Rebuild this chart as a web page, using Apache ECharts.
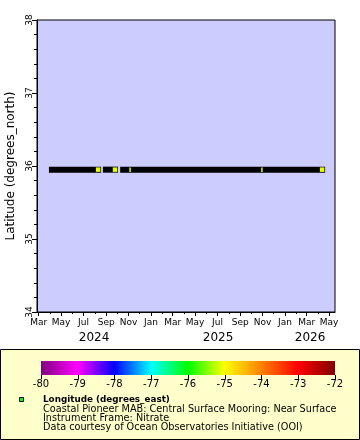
<!DOCTYPE html>
<html><head><meta charset="utf-8">
<script src="https://cdn.jsdelivr.net/npm/echarts@6/dist/echarts.min.js"></script>
<style>html,body{margin:0;padding:0;background:#fff}#c{width:360px;height:440px}</style>
</head><body><div id="c"></div>
<script>
// ---- data ----
const timeRange = ['2024-02-25T12:00', '2026-05-17T00:00'];
const latRange = [34, 38];
// continuous runs of (overlapping) observations
const segStart = ['2024-03-29', '2024-08-23', '2024-10-09'];
const segEnd   = ['2024-08-18', '2024-10-03', '2026-04-20'];
const segLat   = [35.95, 35.95, 35.95];
// observations whose fill colour is visible
const openDates = ['2024-08-10', '2024-09-25', '2026-04-12'];
const openLat   = [35.95, 35.95, 35.95];
const openLon   = [-75.1, -75.1, -75.1];
// observations mostly hidden by neighbours
const slivDates = ['2024-11-05', '2025-10-30'];
const slivLat   = [35.95, 35.95];
const slivLon   = [-75.1, -75.1];
// axis ticks
const monthTicks = ['2024-03','2024-04','2024-05','2024-06','2024-07','2024-08','2024-09','2024-10','2024-11','2024-12',
  '2025-01','2025-02','2025-03','2025-04','2025-05','2025-06','2025-07','2025-08','2025-09','2025-10','2025-11','2025-12',
  '2026-01','2026-02','2026-03','2026-04','2026-05'];
const labelMonths = ['2024-03','2024-05','2024-07','2024-09','2024-11','2025-01','2025-03','2025-05','2025-07','2025-09','2025-11','2026-01','2026-03','2026-05'];
const monthNames = ['Jan','Feb','Mar','Apr','May','Jun','Jul','Aug','Sep','Oct','Nov','Dec'];
const yearLabels = ['2024', '2025', '2026'];
const cbTicks = [-80, -79, -78, -77, -76, -75, -74, -73, -72];
const cbColors = ['#800080','#ff00ff','#0000ff','#00ffff','#00ff00','#ffff00','#ff8000','#ff0000','#800000'];
const legendTitle = 'Longitude (degrees_east)';
const legendLines = ['Coastal Pioneer MAB: Central Surface Mooring: Near Surface',
  'Instrument Frame: Nitrate',
  'Data courtesy of Ocean Observatories Initiative (OOI)'];
const yTitle = 'Latitude (degrees_north)';

// ---- helpers ----
function t(s) {
  const m = s.match(/(\d+)-(\d+)(?:-(\d+))?(?:T(\d+):(\d+))?/);
  return Date.UTC(+m[1], +m[2] - 1, m[3] ? +m[3] : 1, m[4] ? +m[4] : 0, m[5] ? +m[5] : 0);
}
const xMin = t(timeRange[0]), xMax = t(timeRange[1]);
const yearCenters = yearLabels.map(y => {
  const a = Math.max(xMin, Date.UTC(+y, 0, 1)), b = Math.min(xMax, Date.UTC(+y + 1, 0, 1));
  return (a + b) / 2;
});
const FONT = 'DejaVu Sans';

const chart = echarts.init(document.getElementById('c'), null, {renderer: 'canvas'});
const baseX = {type: 'value', gridIndex: 0, min: xMin, max: xMax, position: 'bottom', offset: 0, splitLine: {show: false}};
chart.setOption({
  animation: false,
  backgroundColor: '#fff',
  textStyle: {fontFamily: FONT},
  grid: [
    {left: 37, top: 20, width: 298, height: 292, show: true, backgroundColor: '#ccccff', borderColor: '#000', borderWidth: 1,
     containLabel: false, outerBoundsMode: 'none'},
    {left: 41, top: 361, width: 294, height: 14, show: true, borderWidth: 0, containLabel: false, outerBoundsMode: 'none',
     backgroundColor: new echarts.graphic.LinearGradient(0, 0, 1, 0, cbColors.map((c, i) => ({offset: i / (cbColors.length - 1), color: c})))}
  ],
  xAxis: [
    Object.assign({}, baseX, {
      axisLine: {show: true, lineStyle: {color: '#000', width: 1}},
      axisTick: {show: true, length: 4, lineStyle: {color: '#000'}, customValues: labelMonths.map(t)},
      axisLabel: {show: true, customValues: labelMonths.map(t), fontSize: 9, color: '#000', margin: 6, fontFamily: FONT,
        formatter: v => monthNames[new Date(v).getUTCMonth()]}
    }),
    Object.assign({}, baseX, {
      axisLine: {show: false},
      axisTick: {show: true, length: 2, lineStyle: {color: '#000'}, customValues: monthTicks.map(t)},
      axisLabel: {show: false}
    }),
    Object.assign({}, baseX, {
      axisLine: {show: false},
      axisTick: {show: false},
      axisLabel: {show: true, customValues: yearCenters, fontSize: 12, color: '#000', margin: 20, fontFamily: FONT,
        formatter: v => String(new Date(v).getUTCFullYear())}
    }),
    {type: 'value', gridIndex: 1, min: cbTicks[0], max: cbTicks[cbTicks.length - 1], interval: 1, position: 'bottom',
      splitLine: {show: false}, axisLine: {show: false},
      axisTick: {show: true, length: 4, lineStyle: {color: '#000'}},
      axisLabel: {fontSize: 10, color: '#000', margin: 4, fontFamily: FONT}}
  ],
  yAxis: [
    {type: 'value', gridIndex: 0, min: latRange[0], max: latRange[1], interval: 1,
      name: yTitle, nameLocation: 'middle', nameGap: 15, nameRotate: 90,
      nameTextStyle: {fontSize: 12, color: '#000', fontFamily: FONT},
      splitLine: {show: false},
      axisLine: {show: true, lineStyle: {color: '#000'}},
      axisTick: {show: true, length: 5, lineStyle: {color: '#000'}},
      minorTick: {show: true, splitNumber: 5, length: 3, lineStyle: {color: '#000'}},
      axisLabel: {rotate: 90, fontSize: 9, color: '#000', margin: 3, fontFamily: FONT}},
    {type: 'value', gridIndex: 1, show: false, min: 0, max: 1}
  ],
  visualMap: {type: 'continuous', show: false, min: cbTicks[0], max: cbTicks[cbTicks.length - 1], dimension: 2,
    seriesIndex: [1, 2], inRange: {color: cbColors}},
  series: [
    {type: 'custom', xAxisIndex: 0, yAxisIndex: 0, clip: true,
      data: segStart.map((s, i) => [t(s), t(segEnd[i]), segLat[i]]),
      encode: {x: [0, 1], y: 2},
      renderItem: (params, api) => {
        const p1 = api.coord([api.value(0), api.value(2)]);
        const p2 = api.coord([api.value(1), api.value(2)]);
        return {type: 'rect', shape: {x: p1[0], y: p1[1] - 3, width: p2[0] - p1[0], height: 6}, style: {fill: '#000'}};
      }},
    {type: 'scatter', xAxisIndex: 0, yAxisIndex: 0, symbol: 'rect', symbolSize: 4.5, itemStyle: {opacity: 1},
      data: openDates.map((d, i) => [t(d), openLat[i], openLon[i]])},
    {type: 'scatter', xAxisIndex: 0, yAxisIndex: 0, symbol: 'rect', symbolSize: [1.5, 4.5], itemStyle: {opacity: 1},
      data: slivDates.map((d, i) => [t(d), slivLat[i], slivLon[i]])}
  ],
  graphic: [
    {type: 'rect', z: -1, shape: {x: 0.5, y: 349.5, width: 359, height: 90}, style: {fill: '#ffffcc', stroke: '#000', lineWidth: 1}},
    {type: 'rect', shape: {x: 19.5, y: 397.5, width: 4, height: 4}, style: {fill: cbColors[4], stroke: '#000', lineWidth: 1}},
    {type: 'text', left: 43, top: 395.5, style: {text: legendTitle, font: 'bold 8.8px "DejaVu Sans"', fill: '#000'}},
    {type: 'text', left: 43, top: 404.5, style: {text: legendLines[0], font: '9.7px "DejaVu Sans"', fill: '#000'}},
    {type: 'text', left: 43, top: 413, style: {text: legendLines[1], font: '9.7px "DejaVu Sans"', fill: '#000'}},
    {type: 'text', left: 43, top: 422, style: {text: legendLines[2], font: '9.7px "DejaVu Sans"', fill: '#000'}}
  ]
});
</script></body></html>
